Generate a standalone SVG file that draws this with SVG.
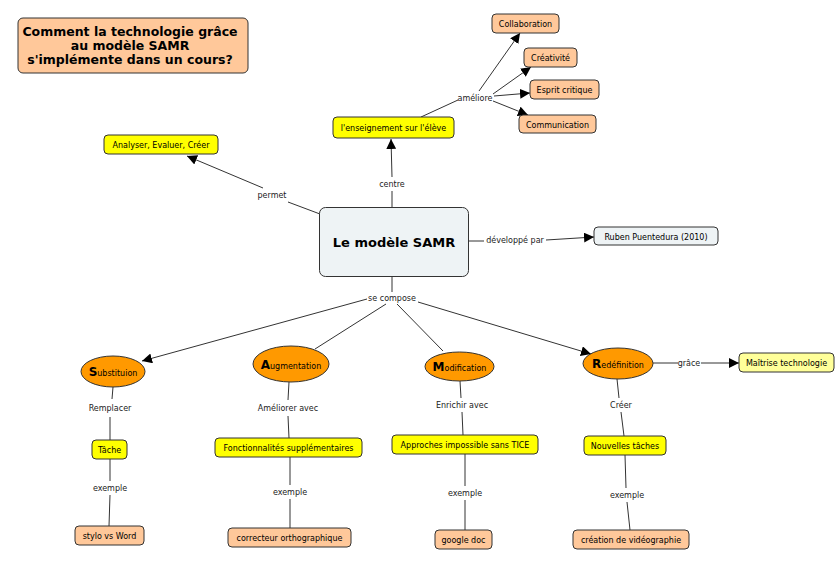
<svg xmlns="http://www.w3.org/2000/svg" width="838" height="565" viewBox="0 0 838 565">
<defs>
<marker id="arr" viewBox="0 0 10 10" refX="10" refY="5" markerWidth="10" markerHeight="10" markerUnits="userSpaceOnUse" orient="auto">
<path d="M0,0 L10,5 L0,10 z" fill="#000"/>
</marker>
</defs>
<style>
text{font-family:"DejaVu Sans",Verdana,sans-serif;fill:#000}
.n{font-size:8px;text-anchor:middle}
.l{font-size:8px;text-anchor:middle;fill:#222}
.b{font-weight:bold;text-anchor:middle}
.pe{fill:#FFC89A;stroke:#333;stroke-width:1}
.ye{fill:#FFFF00;stroke:#333;stroke-width:1}
.ly{fill:#FFFF99;stroke:#333;stroke-width:1}
.gr{fill:#EEF3F5;stroke:#333;stroke-width:1}
.or{fill:#FF9900;stroke:#333;stroke-width:1}
.c line{stroke:#333;stroke-width:1;fill:none}
.a{marker-end:url(#arr)}
.big{font-size:12px;font-weight:bold}
</style>
<rect width="838" height="565" fill="#fff"/>

<g id="title">
<rect class="pe" x="18" y="18" width="230" height="55" rx="5"/>
<text class="b" font-size="12.5" x="130" y="36">Comment la technologie grâce</text>
<text class="b" font-size="12.5" x="130" y="50">au modèle SAMR</text>
<text class="b" font-size="12.5" x="130" y="64">s'implémente dans un cours?</text>
</g>

<g class="c" id="connectors">
<line x1="392" y1="207" x2="392" y2="191"/>
<line class="a" x1="392" y1="177" x2="391" y2="139"/>
<line x1="421" y1="117" x2="458" y2="100"/>
<line class="a" x1="479" y1="91" x2="520" y2="33"/>
<line class="a" x1="493" y1="94" x2="531" y2="67"/>
<line class="a" x1="494" y1="96" x2="530" y2="93"/>
<line class="a" x1="493" y1="101" x2="528" y2="115"/>
<line x1="320" y1="214" x2="288" y2="202"/>
<line class="a" x1="263" y1="188" x2="187" y2="156"/>
<line x1="469" y1="241" x2="484" y2="241"/>
<line class="a" x1="546" y1="240" x2="594" y2="237"/>
<line x1="392" y1="277" x2="392" y2="292"/>
<line class="a" x1="367" y1="299" x2="142" y2="361"/>
<line x1="386" y1="304" x2="315" y2="349"/>
<line x1="397" y1="304" x2="443" y2="351"/>
<line class="a" x1="418" y1="302" x2="591" y2="354"/>
<line x1="113" y1="387" x2="112" y2="399"/>
<line x1="110" y1="417" x2="110" y2="440"/>
<line x1="110" y1="459" x2="110" y2="481"/>
<line x1="110" y1="495" x2="109" y2="526"/>
<line x1="289" y1="382" x2="288" y2="400"/>
<line x1="288" y1="416" x2="289" y2="438"/>
<line x1="290" y1="457" x2="290" y2="485"/>
<line x1="290" y1="499" x2="290" y2="528"/>
<line x1="460" y1="381" x2="461" y2="398"/>
<line x1="462" y1="412" x2="463" y2="435"/>
<line x1="465" y1="454" x2="465" y2="486"/>
<line x1="465" y1="500" x2="465" y2="530"/>
<line x1="617" y1="379" x2="619" y2="398"/>
<line x1="621" y1="412" x2="624" y2="436"/>
<line x1="625" y1="455" x2="626" y2="488"/>
<line x1="627" y1="502" x2="630" y2="530"/>
<line x1="653" y1="363" x2="678" y2="363"/>
<line class="a" x1="701" y1="363" x2="739" y2="363"/>
</g>

<g id="labels">
<text class="l" x="475" y="101">améliore</text>
<text class="l" x="272" y="198">permet</text>
<text class="l" x="392" y="187">centre</text>
<text class="l" x="515" y="243">développé par</text>
<text class="l" x="392" y="301">se compose</text>
<text class="l" x="689" y="366">grâce</text>
<text class="l" x="110" y="411">Remplacer</text>
<text class="l" x="110" y="491">exemple</text>
<text class="l" x="288" y="411">Améliorer avec</text>
<text class="l" x="290" y="495">exemple</text>
<text class="l" x="462" y="408">Enrichir avec</text>
<text class="l" x="465" y="496">exemple</text>
<text class="l" x="621" y="408">Créer</text>
<text class="l" x="627" y="498">exemple</text>
</g>

<g id="main">
<rect class="gr" x="319.5" y="207.5" width="149" height="69" rx="6"/>
<text class="b" font-size="13" x="394" y="247">Le modèle SAMR</text>
</g>

<g id="enseignement">
<rect class="ye" x="333" y="117" width="121" height="21" rx="4"/>
<text class="n" x="393.5" y="131">l'enseignement sur l'élève</text>
</g>
<g id="collaboration">
<rect class="pe" x="492" y="14" width="67" height="19" rx="4"/>
<text class="n" x="525.5" y="27">Collaboration</text>
</g>
<g id="creativite">
<rect class="pe" x="524" y="48" width="53" height="19" rx="4"/>
<text class="n" x="550.5" y="61">Créativité</text>
</g>
<g id="esprit">
<rect class="pe" x="530" y="80" width="69" height="19" rx="4"/>
<text class="n" x="564.5" y="93">Esprit critique</text>
</g>
<g id="communication">
<rect class="pe" x="519" y="115" width="77" height="18" rx="4"/>
<text class="n" x="557.5" y="127.5">Communication</text>
</g>
<g id="analyser">
<rect class="ye" x="104" y="135" width="114" height="19" rx="4"/>
<text class="n" x="161" y="148">Analyser, Evaluer, Créer</text>
</g>
<g id="ruben">
<rect class="gr" x="594" y="227" width="124" height="18" rx="4"/>
<text class="n" x="656" y="239.5">Ruben Puentedura (2010)</text>
</g>
<g id="maitrise">
<rect class="ly" x="739" y="353" width="95" height="19" rx="4"/>
<text class="n" x="786.5" y="366">Maîtrise technologie</text>
</g>

<g id="substitution">
<ellipse class="or" cx="113" cy="371.5" rx="32" ry="15.5"/>
<text x="113" y="376" text-anchor="middle"><tspan class="big">S</tspan><tspan font-size="8">ubstituion</tspan></text>
</g>
<g id="augmentation">
<ellipse class="or" cx="291" cy="364" rx="38" ry="18"/>
<text x="291" y="368.5" text-anchor="middle"><tspan class="big">A</tspan><tspan font-size="8">ugmentation</tspan></text>
</g>
<g id="modification">
<ellipse class="or" cx="459.5" cy="366.5" rx="34.5" ry="14.5"/>
<text x="459.5" y="371" text-anchor="middle"><tspan class="big">M</tspan><tspan font-size="8">odification</tspan></text>
</g>
<g id="redefinition">
<ellipse class="or" cx="618" cy="363.5" rx="35" ry="15.5"/>
<text x="618" y="368" text-anchor="middle"><tspan class="big">R</tspan><tspan font-size="8">edéfinition</tspan></text>
</g>

<g id="tache">
<rect class="ye" x="92" y="440" width="35" height="19" rx="4"/>
<text class="n" x="109.5" y="453">Tâche</text>
</g>
<g id="stylo">
<rect class="pe" x="75" y="526" width="69" height="19" rx="4"/>
<text class="n" x="109.5" y="539">stylo vs Word</text>
</g>
<g id="fonctionnalites">
<rect class="ye" x="215" y="438" width="147" height="19" rx="4"/>
<text class="n" x="288.5" y="451">Fonctionnalités supplémentaires</text>
</g>
<g id="correcteur">
<rect class="pe" x="228" y="528" width="123" height="19" rx="4"/>
<text class="n" x="289.5" y="541">correcteur orthographique</text>
</g>
<g id="approches">
<rect class="ye" x="392" y="435" width="146" height="19" rx="4"/>
<text class="n" x="465" y="448">Approches impossible sans TICE</text>
</g>
<g id="google">
<rect class="pe" x="435" y="530" width="57" height="19" rx="4"/>
<text class="n" x="463.5" y="543">google doc</text>
</g>
<g id="nouvelles">
<rect class="ye" x="584" y="436" width="82" height="19" rx="4"/>
<text class="n" x="625" y="449">Nouvelles tâches</text>
</g>
<g id="creation">
<rect class="pe" x="573" y="530" width="116" height="19" rx="4"/>
<text class="n" x="631" y="543">création de vidéographie</text>
</g>
</svg>
